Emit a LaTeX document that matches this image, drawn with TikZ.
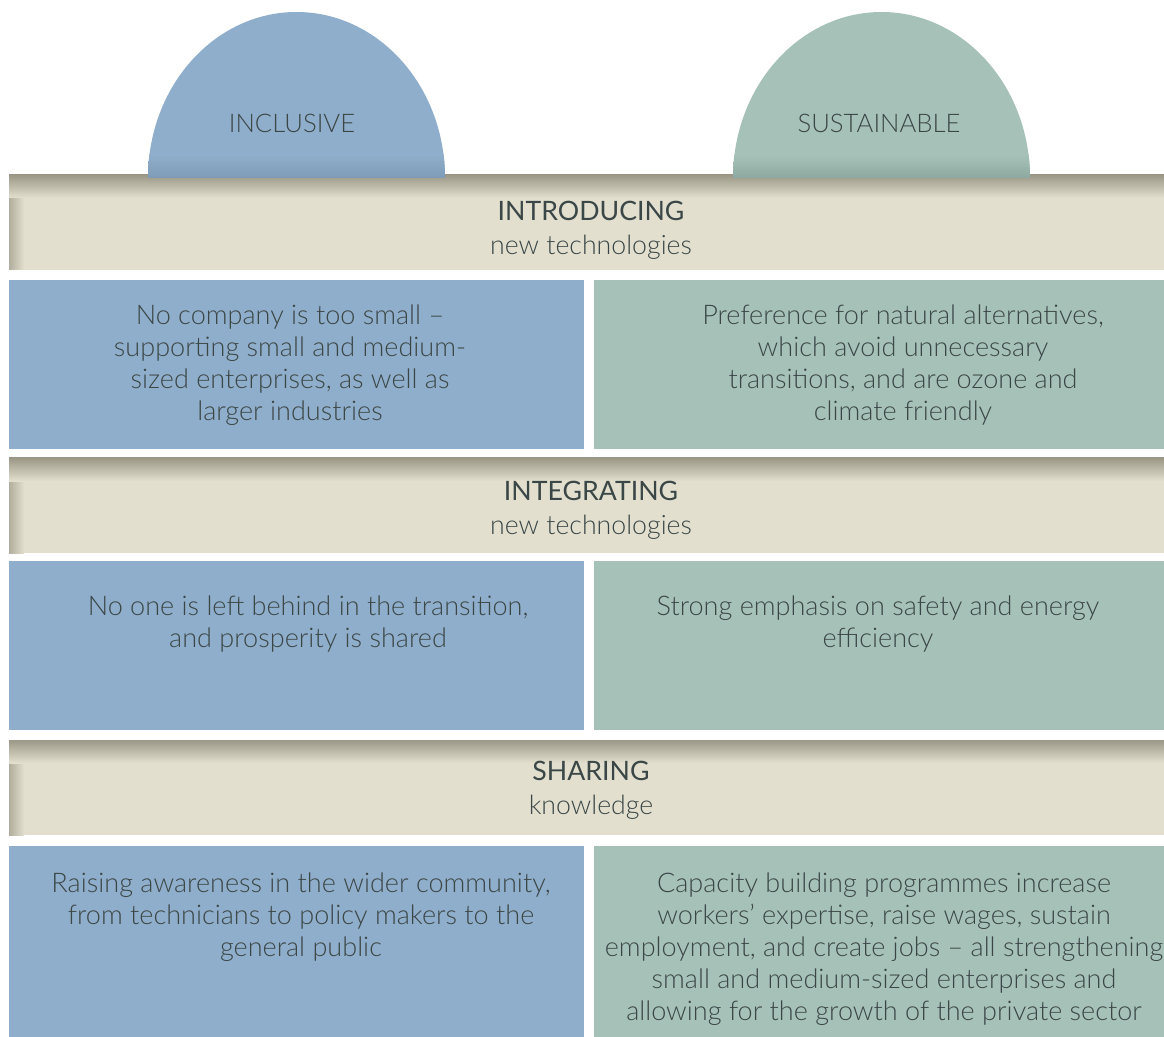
\documentclass[tikz,border=0pt]{standalone}
\usepackage{fontspec}
\setmainfont{Lato}[UprightFont={* Light},BoldFont={* Regular}]
\usetikzlibrary{positioning}
\definecolor{inclBlue}{HTML}{8FAECB}
\definecolor{inclBlueDark}{HTML}{7E9BB6}
\definecolor{sustGreen}{HTML}{A6C2B8}
\definecolor{sustGreenDark}{HTML}{8DA8A0}
\definecolor{bandFill}{HTML}{E2DFCE}
\definecolor{bandDark}{HTML}{9C9888}
\definecolor{inkGrey}{HTML}{3B4747}

\begin{document}
\begin{tikzpicture}[x=0.02cm,y=-0.02cm,
	label/.style={text=inkGrey, align=center, inner sep=0pt, font=\fontsize{15.4}{18.2}\selectfont},
	heading/.style={label, font=\fontsize{15.2}{19.5}\selectfont},
	domelabel/.style={label, font=\fontsize{14.6}{18}\selectfont}]
	\useasboundingbox (0,0) rectangle (1164,1037);

	% bands
	\fill[bandFill] (9,175) rectangle (1164,270);
	\shade[left color=bandDark!70!bandFill, right color=bandFill] (9,175) rectangle (24,270);
	\shade[top color=bandDark, bottom color=bandFill] (9,175) rectangle (1164,198);
	\fill[bandFill] (9,458) rectangle (1164,553);
	\shade[left color=bandDark!70!bandFill, right color=bandFill] (9,458) rectangle (24,553);
	\shade[top color=bandDark, bottom color=bandFill] (9,458) rectangle (1164,481);
	\fill[bandFill] (9,740) rectangle (1164,835);
	\shade[left color=bandDark!70!bandFill, right color=bandFill] (9,740) rectangle (24,835);
	\shade[top color=bandDark, bottom color=bandFill] (9,740) rectangle (1164,763);

	\node[heading] (introducing) at (591,230) {\textbf{INTRODUCING}\\new technologies};
	\node[heading] (integrating) at (591,510) {\textbf{INTEGRATING}\\new technologies};
	\node[heading] (sharing) at (591,790) {\textbf{SHARING}\\knowledge};

	% domes
	\fill[inclBlue] (148,178) arc[start angle=180, end angle=360, x radius=148.5, y radius=166] -- cycle;
	\begin{scope}
		\clip (148,178) arc[start angle=180, end angle=360, x radius=148.5, y radius=166] -- cycle;
		\shade[top color=inclBlue, bottom color=inclBlueDark] (148,155) rectangle (445,178);
	\end{scope}
	\fill[sustGreen] (733,178) arc[start angle=180, end angle=360, x radius=148.5, y radius=166] -- cycle;
	\begin{scope}
		\clip (733,178) arc[start angle=180, end angle=360, x radius=148.5, y radius=166] -- cycle;
		\shade[top color=sustGreen, bottom color=sustGreenDark] (733,155) rectangle (1031,178);
	\end{scope}
	\node[domelabel] (inclusive) at (292,123) {INCLUSIVE};
	\node[domelabel] (sustainable) at (879,123) {SUSTAINABLE};

	% columns
	\fill[inclBlue] (9,280) rectangle (584,449);
	\fill[sustGreen] (594,280) rectangle (1164,449);
	\fill[inclBlue] (9,561) rectangle (584,730);
	\fill[sustGreen] (594,561) rectangle (1164,730);
	\fill[inclBlue] (9,846) rectangle (584,1037);
	\fill[sustGreen] (594,846) rectangle (1164,1037);

	\node[label] (smallco) at (290,365) {No company is too small --\\supporting small and medium-\\sized enterprises, as well as\\larger industries};
	\node[label] (natural) at (903,365) {Preference for natural alternatives,\\which avoid unnecessary\\transitions, and are ozone and\\climate friendly};
	\node[label] (noone) at (308,624) {No one is left behind in the transition,\\and prosperity is shared};
	\node[label] (safety) at (878,624) {Strong emphasis on safety and energy\\efficiency};
	\node[label] (awareness) at (301,917) {Raising awareness in the wider community,\\from technicians to policy makers to the\\general public};
	\node[label] (capacity) at (884,949) {Capacity building programmes increase\\workers’ expertise, raise wages, sustain\\employment, and create jobs -- all strengthening\\small and medium-sized enterprises and\\allowing for the growth of the private sector};
\end{tikzpicture}
\end{document}
